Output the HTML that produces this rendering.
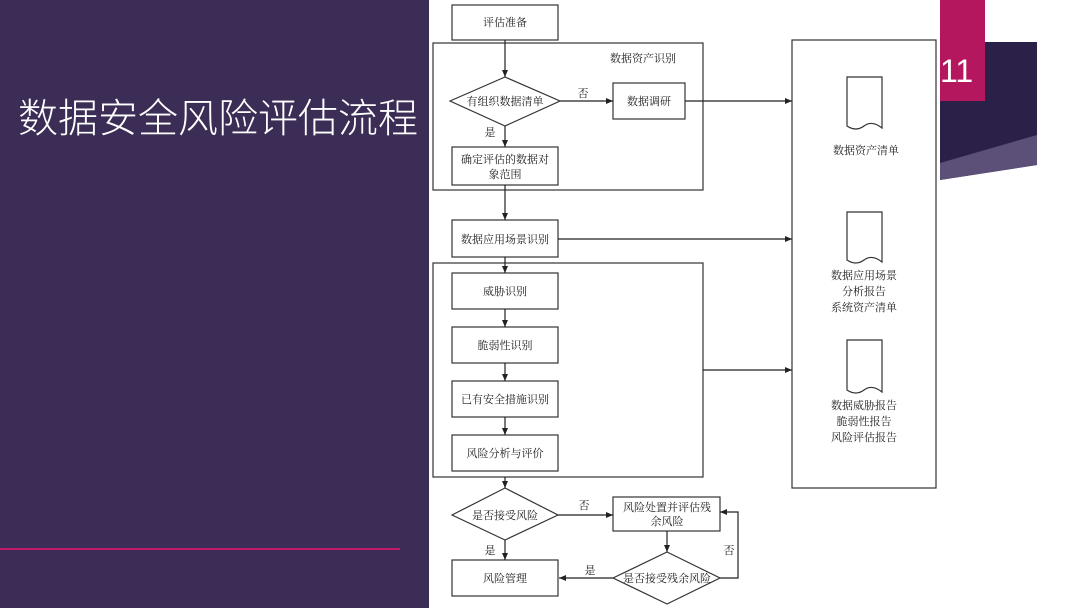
<!DOCTYPE html>
<html><head><meta charset="utf-8"><style>
body{margin:0;width:1080px;height:608px;overflow:hidden;background:#fff;}
svg{display:block}
</style></head><body>
<svg width="1080" height="608" viewBox="0 0 1080 608" xmlns="http://www.w3.org/2000/svg">
<defs><marker id="a" markerWidth="8" markerHeight="8" refX="7" refY="4" orient="auto" markerUnits="userSpaceOnUse"><path d="M0,1 L7,4 L0,7 Z" fill="#222"/></marker></defs>
<rect x="0" y="0" width="429" height="608" fill="#3b2d55"/>
<text x="18" y="132" fill="#fff" font-family="Liberation Sans,'Noto Sans CJK SC',sans-serif" font-size="40" font-weight="300" textLength="400">数据安全风险评估流程</text>
<rect x="0" y="548" width="400" height="2" fill="#c21a6a"/>
<g fill="none" stroke="#333" stroke-width="1.2">
<rect x="452" y="5" width="106" height="35"/>
<rect x="433" y="43" width="270" height="147"/>
<polygon points="450,101 505,77 560,101 505,126"/>
<rect x="613" y="83" width="72" height="36"/>
<rect x="452" y="147" width="106" height="38"/>
<rect x="452" y="220" width="106" height="37"/>
<rect x="433" y="263" width="270" height="214"/>
<rect x="452" y="273" width="106" height="36"/>
<rect x="452" y="327" width="106" height="36"/>
<rect x="452" y="381" width="106" height="36"/>
<rect x="452" y="435" width="106" height="36"/>
<rect x="792" y="40" width="144" height="448"/>
<polygon points="452,515 505,488 558,515 505,540"/>
<rect x="613" y="497" width="107" height="34"/>
<polygon points="613,578 667,552 720,578 667,604"/>
<rect x="452" y="560" width="106" height="36"/>
<path d="M847,77 H882 V128 Q872,120 864,126 Q856,132 847,126 Z"/>
<path d="M847,212 H882 V262 Q872,254 864,260 Q856,266 847,260 Z"/>
<path d="M847,340 H882 V392 Q872,384 864,390 Q856,396 847,390 Z"/>
</g>
<g stroke="#222" stroke-width="1.2" fill="none" marker-end="url(#a)">
<line x1="505" y1="40" x2="505" y2="77"/>
<line x1="560" y1="101" x2="613" y2="101"/>
<line x1="685" y1="101" x2="792" y2="101"/>
<line x1="505" y1="126" x2="505" y2="147"/>
<line x1="505" y1="185" x2="505" y2="220"/>
<line x1="558" y1="239" x2="792" y2="239"/>
<line x1="505" y1="257" x2="505" y2="273"/>
<line x1="505" y1="309" x2="505" y2="327"/>
<line x1="505" y1="363" x2="505" y2="381"/>
<line x1="505" y1="417" x2="505" y2="435"/>
<line x1="703" y1="370" x2="792" y2="370"/>
<line x1="505" y1="477" x2="505" y2="488"/>
<line x1="558" y1="515" x2="613" y2="515"/>
<line x1="667" y1="531" x2="667" y2="552"/>
<polyline points="720,578 738,578 738,512 720,512"/>
<line x1="613" y1="578" x2="559" y2="578"/>
<line x1="505" y1="540" x2="505" y2="560"/>
</g>
<g font-family="'Noto Serif CJK SC','Noto Sans CJK SC',serif" font-size="11" fill="#222" text-anchor="middle">
<text x="505" y="26">评估准备</text>
<text x="643" y="62">数据资产识别</text>
<text x="505" y="105">有组织数据清单</text>
<text x="583" y="97">否</text>
<text x="649" y="105">数据调研</text>
<text x="490" y="136">是</text>
<text x="505" y="163">确定评估的数据对</text>
<text x="505" y="178">象范围</text>
<text x="505" y="243">数据应用场景识别</text>
<text x="505" y="295">威胁识别</text>
<text x="505" y="349">脆弱性识别</text>
<text x="505" y="403">已有安全措施识别</text>
<text x="505" y="457">风险分析与评价</text>
<text x="866" y="154">数据资产清单</text>
<text x="864" y="279">数据应用场景</text>
<text x="864" y="295">分析报告</text>
<text x="864" y="311">系统资产清单</text>
<text x="864" y="409">数据威胁报告</text>
<text x="864" y="425">脆弱性报告</text>
<text x="864" y="441">风险评估报告</text>
<text x="505" y="519">是否接受风险</text>
<text x="584" y="509">否</text>
<text x="667" y="511">风险处置并评估残</text>
<text x="667" y="525">余风险</text>
<text x="667" y="582">是否接受残余风险</text>
<text x="729" y="554">否</text>
<text x="590" y="574">是</text>
<text x="490" y="554">是</text>
<text x="505" y="582">风险管理</text>
</g>
<polygon points="940,42 1037,42 1037,165 940,180" fill="#2a2048"/>
<polygon points="940,163 1037,135 1037,165 940,180" fill="#5c4f78"/>
<rect x="940" y="0" width="45" height="101" fill="#b5175f"/>
<text x="940" y="82" fill="#fff" font-family="Liberation Sans,sans-serif" font-size="32" font-weight="300">11</text>
</svg>
</body></html>
